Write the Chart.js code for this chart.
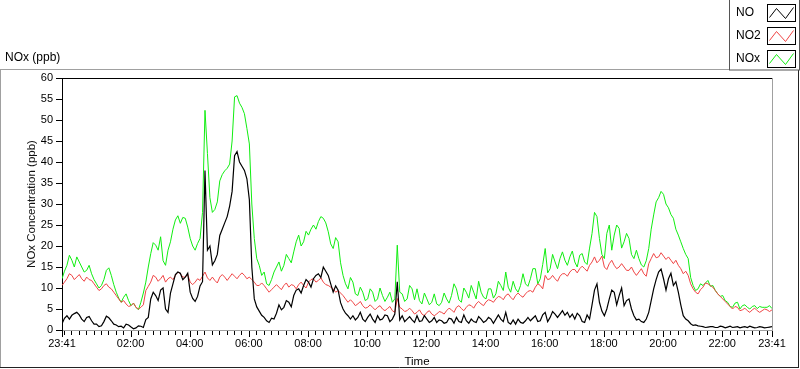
<!DOCTYPE html>
<html>
<head>
<meta charset="utf-8">
<script src="https://cdn.jsdelivr.net/npm/chart.js@4.4.1/dist/chart.umd.min.js"></script>
<style>
  html, body { margin: 0; padding: 0; background: #fff; }
</style>
</head>
<body>
<canvas id="myChart" width="800" height="369"></canvas>
<script>
// readings every 5 minutes, starting 23:41 (minute 0) through 23:41 next day (minute 1440)
// one row = 2 hours
const seriesNames = ["NO", "NO2", "NOx"];

const noValues = [
  1.5, 2.8, 3.4, 2.6, 3.5, 3.9, 4.2, 3.6, 2.6, 2.0, 3.0, 3.2, 2.2, 1.4, 1.4, 0.8, 1.0, 2.0, 3.3, 2.9, 2.2, 1.4, 1.2, 0.8,
  0.9, 0.5, 1.4, 1.2, 0.7, 0.3, 0.5, 1.0, 0.9, 0.6, 2.5, 3.0, 7.4, 9.0, 8.2, 7.0, 9.5, 10.0, 5.0, 4.2, 8.8, 11.0, 13.2, 13.8,
  13.5, 12.0, 12.6, 13.5, 9.0, 7.5, 6.8, 8.0, 10.5, 11.5, 38, 19.0, 20, 15.5, 16.5, 18.0, 22.5, 24.0, 25.5, 27.0, 29.5, 33.0, 41.5, 42.5,
  40, 39.0, 38, 36.0, 31, 15.0, 7.4, 5.5, 4.5, 3.5, 3.0, 2.2, 1.8, 2.8, 2.6, 4.0, 6.0, 4.8, 5.4, 7.0, 6.6, 5.5, 8.2, 9.5,
  9.8, 8.8, 10.6, 12.0, 11.4, 10.2, 12.2, 13.0, 13.4, 12.5, 15.0, 14.0, 13.0, 11.0, 9.0, 10.5, 9.5, 6.5, 5.0, 4.0, 3.4, 2.6, 3.4, 2.4,
  3.0, 4.2, 2.6, 2.0, 3.0, 3.8, 2.6, 1.8, 3.4, 2.4, 2.6, 3.6, 3.4, 2.0, 2.6, 3.8, 11.5, 2.4, 3.4, 2.0, 2.6, 3.2, 2.4, 1.8,
  3.4, 2.0, 2.2, 3.4, 2.6, 1.8, 2.2, 3.0, 1.8, 2.4, 2.2, 1.6, 1.8, 2.8, 2.6, 1.6, 3.0, 2.0, 1.8, 3.6, 2.2, 1.6, 2.6, 2.0,
  1.8, 3.2, 2.6, 1.8, 2.2, 3.0, 2.6, 1.6, 2.6, 3.6, 2.6, 2.0, 4.2, 1.8, 1.4, 2.4, 1.4, 2.6, 1.8, 1.6, 2.2, 3.0, 2.2, 2.8,
  3.4, 2.0, 2.2, 3.6, 4.2, 2.0, 3.0, 4.4, 3.8, 3.0, 3.8, 4.6, 3.5, 4.2, 3.0, 3.8, 2.6, 4.0, 3.4, 2.0, 1.8, 3.6, 2.6, 6.0,
  9.5, 11.0, 6.6, 4.5, 3.4, 5.0, 7.4, 9.5, 9.0, 6.0, 8.2, 10.0, 5.8, 7.0, 7.4, 5.0, 3.4, 2.4, 2.6, 2.0, 1.8, 2.6, 4.2, 7.0,
  9.8, 12.0, 13.8, 14.5, 12.2, 9.5, 12.2, 13.5, 10.6, 11.5, 9.0, 6.0, 3.4, 2.6, 2.2, 1.5, 1.1, 1.2, 1.0, 0.9, 0.8, 0.6, 0.7, 0.8,
  0.8, 0.6, 0.6, 0.9, 0.8, 0.5, 0.7, 0.9, 0.6, 0.7, 0.8, 0.5, 0.7, 0.8, 0.6, 0.9, 0.7, 0.5, 0.6, 0.8, 0.7, 0.5, 0.6, 0.7,
  0.8
];

const no2Values = [
  10.6, 11.4, 12.2, 13.4, 13.0, 12.0, 12.6, 13.2, 12.2, 11.6, 12.6, 12.0, 11.8, 11.0, 10.2, 9.4, 9.8, 10.6, 11.0, 10.2, 9.8, 9.0, 8.2, 7.4,
  6.6, 7.0, 6.2, 5.6, 5.8, 6.4, 5.4, 5.0, 5.4, 6.0, 9.4, 10.4, 11.4, 13.0, 12.6, 11.6, 12.2, 13.0, 11.4, 12.2, 12.6, 12.0, 13.0, 13.8,
  13.4, 12.6, 12.6, 13.2, 11.4, 10.8, 11.4, 12.2, 11.8, 12.8, 13.8, 12.4, 11.8, 12.6, 11.8, 11.2, 12.6, 13.2, 12.6, 11.8, 12.6, 13.4, 12.8, 12.2,
  13.0, 13.6, 13.0, 12.2, 12.6, 12.0, 11.4, 10.6, 10.6, 11.2, 10.6, 9.8, 9.0, 9.6, 10.2, 10.8, 10.2, 9.6, 10.6, 11.2, 10.2, 10.8, 10.6, 9.8,
  10.8, 11.4, 10.6, 10.0, 11.4, 12.0, 12.2, 11.4, 11.8, 12.4, 11.4, 10.8, 10.6, 10.2, 9.8, 9.0, 9.4, 8.8, 8.2, 7.4, 6.6, 7.2, 6.6, 5.8,
  6.2, 6.8, 5.8, 5.2, 5.4, 6.0, 5.4, 4.8, 5.4, 5.8, 5.0, 4.6, 5.1, 5.6, 4.6, 4.2, 7.5, 5.4, 5.0, 4.4, 4.6, 5.2, 4.6, 3.8,
  4.2, 4.8, 3.8, 3.4, 4.2, 4.6, 3.8, 3.4, 3.8, 4.4, 4.2, 3.8, 4.6, 5.2, 4.8, 4.2, 5.4, 5.8, 5.1, 4.6, 5.4, 6.0, 5.8, 5.2,
  6.2, 6.8, 6.2, 5.8, 6.7, 7.2, 7.0, 6.6, 7.4, 8.0, 7.8, 7.2, 8.2, 8.6, 7.8, 7.2, 8.2, 8.8, 8.2, 7.8, 8.6, 9.2, 9.4, 9.0,
  10.2, 11.0, 10.6, 9.8, 13.0, 12.0, 12.2, 13.0, 12.2, 11.6, 12.8, 13.4, 13.4, 12.8, 13.8, 14.4, 14.4, 13.6, 14.6, 15.2, 14.6, 14.0, 15.4, 16.2,
  17.4, 16.0, 16.6, 17.6, 15.0, 14.4, 15.8, 16.6, 15.4, 14.6, 15.0, 15.8, 15.0, 14.2, 14.2, 15.0, 13.8, 13.0, 13.8, 14.6, 13.4, 12.8, 15.8, 17.0,
  18.2, 17.2, 17.4, 18.4, 17.6, 16.8, 17.4, 16.6, 15.8, 16.6, 15.4, 14.6, 13.4, 14.0, 13.0, 11.0, 9.8, 9.0, 8.6, 9.6, 10.2, 11.2, 11.0, 10.6,
  10.2, 9.4, 8.6, 8.0, 7.4, 6.8, 6.2, 5.6, 5.0, 5.6, 5.4, 4.6, 4.8, 5.2, 4.6, 4.2, 4.8, 5.2, 4.6, 4.2, 4.6, 5.0, 4.8, 4.4,
  4.8
];

const noxValues = [
  12.2, 14.0, 15.4, 17.8, 16.6, 15.0, 17.4, 16.2, 15.0, 13.8, 14.2, 15.4, 13.4, 12.0, 11.0, 10.0, 10.6, 12.0, 14.2, 14.8, 13.0, 10.8, 9.0, 7.6,
  6.6, 7.8, 8.6, 7.0, 5.8, 6.4, 5.4, 4.8, 6.6, 8.8, 11.4, 15.0, 18.2, 20.8, 20.2, 19.0, 22.2, 16.5, 15.4, 19.0, 21.0, 24.0, 26.2, 27.2,
  25.4, 26.8, 26.6, 24.5, 21.8, 20.0, 19.0, 20.6, 21.8, 28.0, 52.3, 42.0, 31.5, 28.0, 28.7, 30.5, 35.5, 37.0, 37.9, 38.5, 39.5, 45.0, 55.5, 55.8,
  54.0, 53.0, 51.5, 48.0, 44.3, 30.0, 21.8, 17.0, 15.4, 13.0, 13.8, 11.0, 10.6, 12.0, 13.8, 15.0, 16.2, 14.0, 15.4, 18.0, 17.0, 16.0, 18.6, 21.0,
  22.6, 20.0, 21.0, 23.5, 22.6, 24.0, 25.0, 24.0, 25.8, 27.0, 26.6, 25.5, 23.4, 20.5, 19.4, 22.0, 21.0, 16.0, 13.0, 11.0, 9.8, 12.5, 11.4, 8.6,
  8.2, 10.2, 9.0, 7.0, 7.4, 9.8, 9.0, 6.8, 7.4, 10.0, 8.2, 6.8, 7.8, 9.0, 6.6, 7.4, 20.2, 9.0, 8.6, 6.8, 7.4, 10.6, 9.8, 7.2,
  9.8, 7.0, 6.2, 8.8, 7.4, 6.0, 6.6, 8.6, 6.2, 5.8, 6.6, 8.8, 7.4, 6.4, 8.2, 11.0, 9.8, 7.2, 6.6, 10.0, 9.0, 7.6, 10.6, 9.0,
  7.4, 11.6, 9.0, 7.8, 7.4, 9.8, 9.8, 7.6, 8.6, 11.6, 10.6, 9.4, 13.8, 10.2, 9.0, 11.6, 9.8, 9.0, 10.6, 13.4, 11.0, 10.4, 12.2, 14.6,
  14.6, 11.0, 12.2, 15.6, 19.4, 13.6, 14.6, 18.0, 16.2, 14.6, 17.0, 18.6, 16.6, 15.4, 17.4, 18.8, 16.2, 15.0, 17.8, 18.2, 16.2, 15.6, 19.5, 23.0,
  28.0, 27.0, 21.8, 18.0, 17.0, 23.0, 25.0, 19.0, 22.6, 25.0, 24.2, 19.5, 21.0, 23.0, 21.8, 18.0, 17.0, 19.0, 17.0, 15.5, 15.0, 16.5, 19.4, 24.0,
  27.4, 30.5, 31.5, 33.0, 32.3, 30.0, 29.1, 27.5, 26.6, 24.0, 22.6, 21.0, 19.4, 18.0, 17.0, 12.5, 10.6, 9.4, 9.8, 11.0, 10.6, 11.2, 11.8, 10.4,
  10.6, 9.4, 8.6, 8.0, 8.2, 7.0, 6.6, 5.6, 5.4, 6.4, 6.6, 5.0, 5.8, 6.0, 5.4, 5.0, 5.6, 5.8, 5.1, 5.6, 5.4, 5.4, 5.4, 5.8,
  5.1
];

// labelled ticks (minutes after 23:41)
const tickLabelMinutes = [0, 139, 259, 379, 499, 619, 739, 859, 979, 1099, 1219, 1339, 1440];
const tickLabels = ["23:41", "02:00", "04:00", "06:00", "08:00", "10:00", "12:00", "14:00", "16:00", "18:00", "20:00", "22:00", "23:41"];

const sampleMinutes = noValues.map((v, i) => i * 5);

// minor ticks every 15 clock minutes (23:45 is minute 4)
const tickMinutes = [0];
for (let m = 4; m < 1440; m += 15) tickMinutes.push(m);
tickMinutes.push(1440);

function tickText(v) {
  const i = tickLabelMinutes.indexOf(v);
  if (i === -1) return "";
  return tickLabels[i];
}

const FONT = "'Liberation Sans', Arial, sans-serif";

const framePlugin = {
  id: "frame",
  beforeDraw(chart) {
    const ctx = chart.ctx;
    ctx.save();
    ctx.fillStyle = "#fff";
    ctx.fillRect(0, 0, chart.width, chart.height);
    ctx.restore();
  },
  afterDraw(chart) {
    const ctx = chart.ctx;
    const a = chart.chartArea;
    const xs = chart.scales.x;
    const ys = chart.scales.y;
    ctx.save();
    ctx.lineWidth = 1;

    // tick marks, major ones a bit longer
    ctx.fillStyle = "#000";
    tickMinutes.forEach((m) => {
      const px = Math.round(xs.getPixelForValue(m));
      const len = tickLabelMinutes.includes(m) ? 6 : 4;
      ctx.fillRect(px, Math.round(a.bottom) + 1, 1, len);
    });
    ys.ticks.forEach((t) => {
      const py = Math.round(ys.getPixelForValue(t.value));
      ctx.fillRect(Math.round(a.left) - 6, py, 6, 1);
    });

    // outer panel
    ctx.strokeStyle = "#a0a0a0";
    ctx.beginPath();
    ctx.moveTo(0, 69.5); ctx.lineTo(730, 69.5);
    ctx.moveTo(0.5, 69.5); ctx.lineTo(0.5, 368);
    ctx.stroke();
    ctx.strokeStyle = "#222";
    ctx.beginPath();
    ctx.moveTo(0, 367.5); ctx.lineTo(799, 367.5);
    ctx.moveTo(798.5, 70); ctx.lineTo(798.5, 368);
    ctx.stroke();
    // plot frame: top black, right grey
    ctx.strokeStyle = "#000";
    ctx.beginPath();
    ctx.moveTo(a.left, a.top + 0.5); ctx.lineTo(a.right, a.top + 0.5);
    ctx.stroke();
    ctx.strokeStyle = "#a0a0a0";
    ctx.beginPath();
    ctx.moveTo(a.right + 0.5, a.top); ctx.lineTo(a.right + 0.5, a.bottom);
    ctx.stroke();
    // panel caption
    ctx.fillStyle = "#000";
    ctx.font = "12px " + FONT;
    ctx.textBaseline = "middle";
    ctx.textAlign = "left";
    ctx.fillText("NOx (ppb)", 5, 58);

    // legend box
    ctx.strokeStyle = "#555";
    ctx.strokeRect(729.5, -0.5, 70, 70.5);
    chart.data.datasets.forEach((ds, i) => {
      const cy = 13 + i * 23;
      ctx.fillStyle = "#000";
      ctx.fillText(ds.label, 736, cy);
      const bx = 767.5, by = cy - 8.5;
      ctx.strokeStyle = "#000";
      ctx.strokeRect(bx, by, 28, 17);
      ctx.strokeStyle = ds.borderColor;
      ctx.beginPath();
      ctx.moveTo(bx + 2, by + 13);
      ctx.lineTo(bx + 9, by + 4);
      ctx.lineTo(bx + 18, by + 14);
      ctx.lineTo(bx + 26, by + 3);
      ctx.stroke();
    });
    ctx.restore();
  }
};

const canvasCtx = document.getElementById("myChart").getContext("2d");

const chartData = {
  labels: sampleMinutes,
  datasets: [
    { label: seriesNames[0], data: noValues, borderColor: "#000000", borderWidth: 1.2 },
    { label: seriesNames[1], data: no2Values, borderColor: "#f04444" },
    { label: seriesNames[2], data: noxValues, borderColor: "#11ee11" }
  ]
};

const config = {
  type: "line",
  data: chartData,
  options: {
    responsive: false,
    animation: false,
    devicePixelRatio: 1,
    layout: { padding: { top: 78, right: 28, left: 0, bottom: 0 } },
    elements: {
      line: { borderWidth: 1, tension: 0 },
      point: { radius: 0 }
    },
    plugins: {
      legend: { display: false },
      tooltip: { enabled: false }
    },
    scales: {
      x: {
        type: "linear",
        min: 0,
        max: 1440,
        afterFit: (s) => { s.height = 39; },
        afterBuildTicks: (s) => { s.ticks = tickMinutes.map((v) => ({ value: v })); },
        ticks: {
          autoSkip: false,
          maxRotation: 0,
          padding: 3,
          color: "#000",
          font: { family: FONT, size: 11 },
          callback: (v) => tickText(v)
        },
        grid: { drawOnChartArea: false, tickLength: 4, tickColor: "rgba(0,0,0,0)" },
        border: { color: "#a0a0a0" },
        title: {
          display: true,
          text: "Time",
          color: "#000",
          font: { family: FONT, size: 11.5 },
          padding: { top: 0, bottom: 0 }
        }
      },
      y: {
        min: 0,
        max: 60,
        afterFit: (s) => { s.width = 62; },
        ticks: {
          stepSize: 5,
          padding: 3,
          color: "#000",
          font: { family: FONT, size: 11 }
        },
        grid: { drawOnChartArea: false, tickLength: 6, tickColor: "rgba(0,0,0,0)" },
        border: { color: "#000" },
        title: {
          display: true,
          text: "NOx Concentration (ppb)",
          color: "#111",
          font: { family: FONT, size: 11.5 },
          padding: { top: 25, bottom: 0 }
        }
      }
    }
  },
  plugins: [framePlugin]
};

let myChart = new Chart(canvasCtx, config);
</script>
</body>
</html>
